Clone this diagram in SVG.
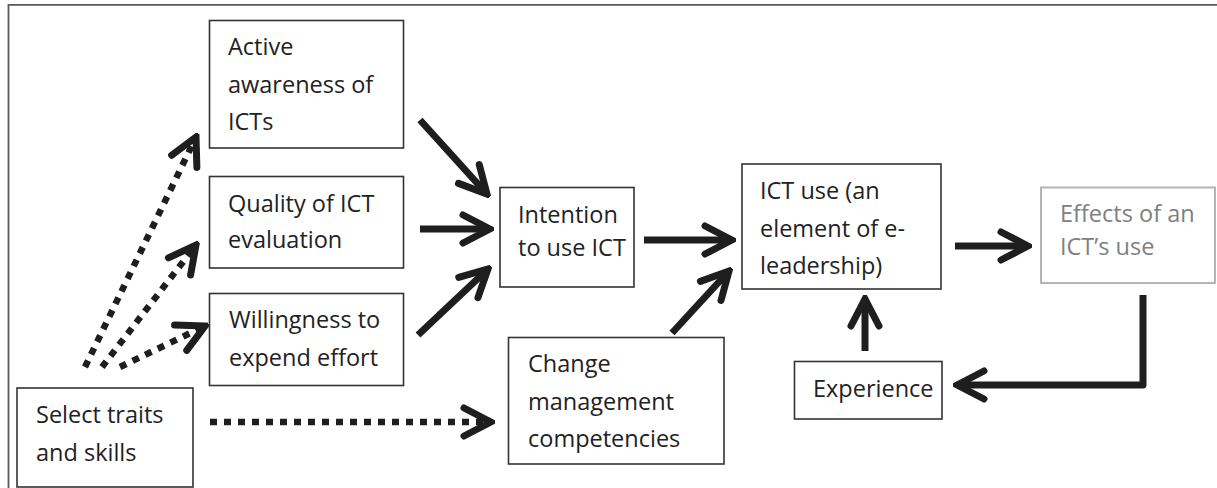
<svg xmlns="http://www.w3.org/2000/svg" width="1217" height="488" viewBox="0 0 1217 488">
  <style>
    .box { fill: #ffffff; stroke: #333333; stroke-width: 1.6; }
    .box-muted { fill: #ffffff; stroke: #b4b4b4; stroke-width: 2; }
    .label { font-family: "Open Sans", "Noto Sans", "Liberation Sans", sans-serif; font-size: 23.5px; fill: #222222; }
    .label-muted { fill: #808080; }
    .link { fill: none; stroke: #1e1e1e; stroke-width: 7; marker-end: url(#chevron); }
    .link-dotted { fill: none; stroke: #1e1e1e; stroke-width: 6.5; stroke-dasharray: 7 7; marker-end: url(#chevron); }
  </style>
  <defs>
    <marker id="chevron" markerUnits="userSpaceOnUse" viewBox="-36 -20 40 40" refX="0" refY="0" markerWidth="40" markerHeight="40" orient="auto">
      <path d="M-27,-14 L0,0 L-27,14" fill="none" stroke="#1e1e1e" stroke-width="7" stroke-linecap="round" stroke-linejoin="miter"/>
    </marker>
  </defs>

  <rect width="1217" height="488" fill="#ffffff"/>
  <!-- page frame -->
  <path d="M8.5,488 V4.8 H1217" fill="none" stroke="#5a5a5a" stroke-width="1.8"/>

  <g id="connectors">
    <!-- dotted influences from traits and skills -->
    <path class="link-dotted" d="M85,367 L196,137"/>
    <path class="link-dotted" d="M102,367 L196,245"/>
    <path class="link-dotted" d="M120,367 L205,326"/>
    <path class="link-dotted" d="M210,422 L491,422"/>
    <!-- solid influences -->
    <path class="link" d="M420,120 L487,194"/>
    <path class="link" d="M420,229 L490,229"/>
    <path class="link" d="M418,335 L488,269"/>
    <path class="link" d="M644,240 L732,240"/>
    <path class="link" d="M672,333 L729,271"/>
    <path class="link" d="M955,246 L1028,246"/>
    <path class="link" d="M865,351 L865,299"/>
    <path class="link" d="M1143,295 V385 H957" stroke-linejoin="round"/>
  </g>

  <g id="node-awareness">
    <rect class="box" x="209.5" y="20.5" width="194" height="127.5"/>
    <text class="label" x="228" y="55">Active</text>
    <text class="label" x="228" y="93">awareness of</text>
    <text class="label" x="228" y="130">ICTs</text>
  </g>

  <g id="node-quality">
    <rect class="box" x="209.5" y="176.5" width="194" height="91.5"/>
    <text class="label" x="228" y="212">Quality of ICT</text>
    <text class="label" x="228" y="248">evaluation</text>
  </g>

  <g id="node-willingness">
    <rect class="box" x="209.5" y="293.5" width="194" height="92"/>
    <text class="label" x="229" y="328">Willingness to</text>
    <text class="label" x="229" y="366">expend effort</text>
  </g>

  <g id="node-traits">
    <rect class="box" x="17" y="388" width="176" height="99"/>
    <text class="label" x="36" y="423">Select traits</text>
    <text class="label" x="36" y="461">and skills</text>
  </g>

  <g id="node-intention">
    <rect class="box" x="500" y="187.5" width="134" height="99.5"/>
    <text class="label" x="518" y="223">Intention</text>
    <text class="label" x="518" y="256">to use ICT</text>
  </g>

  <g id="node-change">
    <rect class="box" x="508.5" y="337.5" width="215.5" height="126.5"/>
    <text class="label" x="528" y="372">Change</text>
    <text class="label" x="528" y="410">management</text>
    <text class="label" x="528" y="447">competencies</text>
  </g>

  <g id="node-ict-use">
    <rect class="box" x="742" y="164" width="199" height="125"/>
    <text class="label" x="760" y="199">ICT use (an</text>
    <text class="label" x="760" y="237">element of e-</text>
    <text class="label" x="760" y="274">leadership)</text>
  </g>

  <g id="node-effects">
    <rect class="box-muted" x="1041" y="187.5" width="174" height="95.5"/>
    <text class="label label-muted" x="1060" y="222">Effects of an</text>
    <text class="label label-muted" x="1060" y="255">ICT’s use</text>
  </g>

  <g id="node-experience">
    <rect class="box" x="794.5" y="361.5" width="147.5" height="57.5"/>
    <text class="label" x="813" y="397">Experience</text>
  </g>
</svg>
